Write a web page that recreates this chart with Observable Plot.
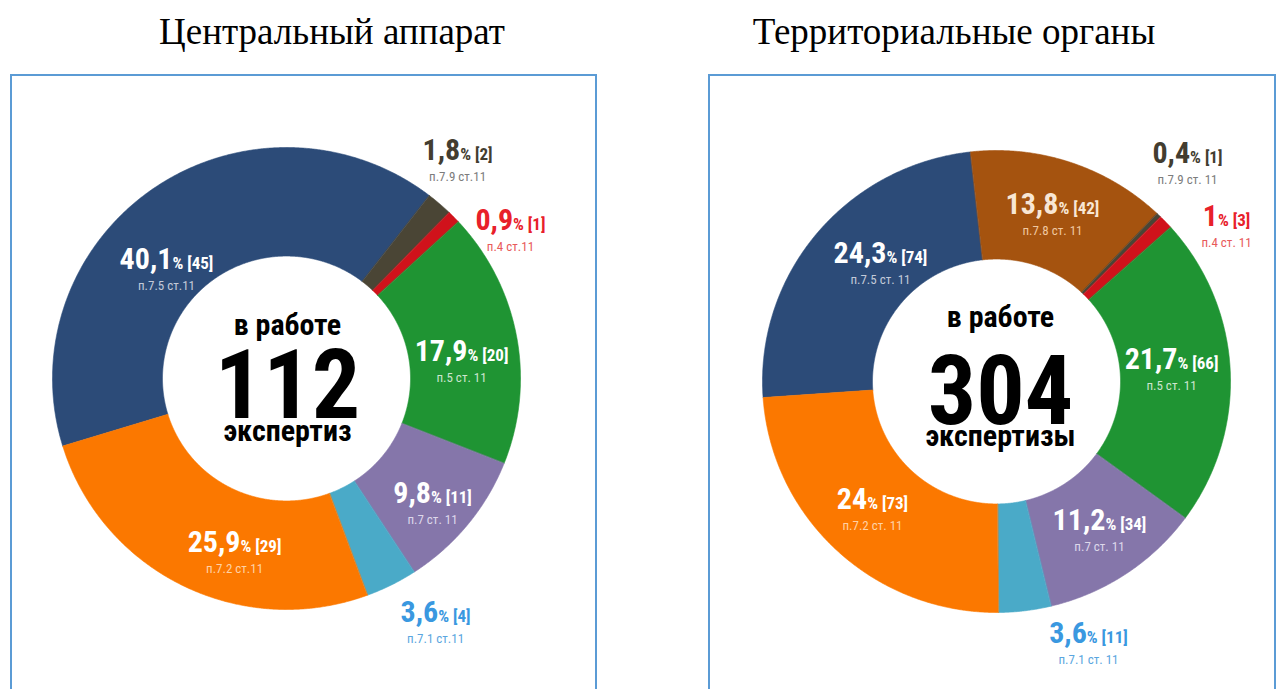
<!DOCTYPE html>
<html>
<head>
<meta charset="utf-8">
<script src="https://cdn.jsdelivr.net/npm/d3@7"></script>
<script src="https://cdn.jsdelivr.net/npm/@observablehq/plot@0.6"></script>
<style>
  html, body { margin: 0; padding: 0; background: #fff; }
  body { width: 1278px; height: 689px; overflow: hidden; position: relative; }
  .title { position: absolute; top: 10px; font-family: "Liberation Serif", "Times New Roman", serif; font-size: 37px; line-height: 44px; color: #000; white-space: nowrap; transform: translateX(-50%); }
  .box { position: absolute; border: 2px solid #5b9bd5; border-bottom: none; box-sizing: border-box; }
  .chart { position: absolute; top: 0; }
  .chart svg { display: block; overflow: visible; }
</style>
</head>
<body>
<script>
// ---------------- data ----------------
const titles = ["Центральный аппарат", "Территориальные органы"];
const centerTop = ["в работе", "в работе"];
const totals = [112, 304];
const centerBottom = ["экспертиз", "экспертизы"];

const caItems    = ["п.7.5 ст.11", "п.7.9 ст.11", "п.4 ст.11", "п.5 ст. 11", "п.7 ст. 11", "п.7.1 ст.11", "п.7.2 ст.11"];
const caCounts   = [45, 2, 1, 20, 11, 4, 29];
const caPercents = [40.1, 1.8, 0.9, 17.9, 9.8, 3.6, 25.9];
const caColors   = ["#2c4b78", "#4a4535", "#d0121b", "#1f9433", "#8576aa", "#4aaac8", "#fb7800"];

const toItems    = ["п.7.5 ст. 11", "п.7.8 ст. 11", "п.7.9 ст. 11", "п.4 ст. 11", "п.5 ст. 11", "п.7 ст. 11", "п.7.1 ст. 11", "п.7.2 ст. 11"];
const toCounts   = [74, 42, 1, 3, 66, 34, 11, 73];
const toPercents = [24.3, 13.8, 0.4, 1, 21.7, 11.2, 3.6, 24];
const toColors   = ["#2c4b78", "#a5530f", "#4a4535", "#d0121b", "#1f9433", "#8576aa", "#4aaac8", "#fb7800"];

// ---------------- styles / layout ----------------
const caLabelMain = ["#ffffff", "#433d30", "#e8202a", "#ffffff", "#ffffff", "#3a98e0", "#ffffff"];
const caLabelSub  = ["#c3cad8", "#7c7c7c", "#e85a5a", "#cce6cf", "#ddd8ea", "#5aa6e0", "#ffd2a6"];
const toLabelMain = ["#ffffff", "#f8e6d4", "#433d30", "#e8202a", "#ffffff", "#ffffff", "#3a98e0", "#ffffff"];
const toLabelSub  = ["#c3cad8", "#f0c8a0", "#7c7c7c", "#e85a5a", "#cce6cf", "#ddd8ea", "#5aa6e0", "#ffd2a6"];
// label anchor (main-line baseline centre) in unit-circle coordinates
const caLabelPos = [[-0.513, 0.476], [0.731, 0.944], [0.957, 0.641], [0.748, 0.074], [0.624, -0.537], [0.637, -1.056], [-0.222, -0.749]];
const toLabelPos = [[-0.496, 0.515], [0.239, 0.727], [0.816, 0.948], [0.983, 0.675], [0.748, 0.056], [0.440, -0.645], [0.393, -1.134], [-0.530, -0.550]];

const panels = [
  {left: 0,   width: 640, cx: 286, cy: 378, rx: 234, ry: 231, start: 253, inner: 0.53,
   titleX: 332, box: [10, 74, 587, 640],
   items: caItems, counts: caCounts, percents: caPercents, colors: caColors,
   main: caLabelMain, sub: caLabelSub, pos: caLabelPos,
   center: [[0.004, 0.188], [0.004, -0.173], [0.004, -0.270]]},
  {left: 640, width: 638, cx: 356, cy: 381, rx: 234, ry: 231, start: 266, inner: 0.53,
   titleX: 954, box: [708, 74, 568, 640],
   items: toItems, counts: toCounts, percents: toPercents, colors: toColors,
   main: toLabelMain, sub: toLabelSub, pos: toLabelPos,
   center: [[0.017, 0.236], [0.017, -0.182], [0.017, -0.278]]}
];

const NARROW = '"Liberation Sans Narrow", "Arial Narrow", "Roboto Condensed", "Liberation Sans", Arial, sans-serif';
const NUM_SIZE = 30, SUF_SIZE = 17, SUB_SIZE = 13, SUB_GAP = 21;
const CENTER_SMALL = 30, CENTER_BIG = 96;

const ctx = document.createElement("canvas").getContext("2d");
function textWidth(t, size, weight) {
  ctx.font = `${weight} ${size}px ${NARROW}`;
  return ctx.measureText(t).width;
}
const fmt = v => String(v).replace(".", ",");

panels.forEach((p, k) => {
  // title
  const t = document.createElement("div");
  t.className = "title";
  t.style.left = p.titleX + "px";
  t.textContent = titles[k];
  document.body.appendChild(t);
  // frame
  const b = document.createElement("div");
  b.className = "box";
  Object.assign(b.style, {left: p.box[0] + "px", top: p.box[1] + "px", width: p.box[2] + "px", height: p.box[3] + "px"});
  document.body.appendChild(b);

  // slices from the counts
  const pie = d3.pie().sort(null).value(d => d)
    .startAngle(p.start * Math.PI / 180).endAngle(p.start * Math.PI / 180 + 2 * Math.PI);
  const arcs = pie(p.counts);
  const slices = arcs.map((a, i) => {
    const pts = [];
    const n = Math.max(2, Math.ceil((a.endAngle - a.startAngle) / 0.005));
    for (let j = 0; j <= n; j++) {
      const ang = a.startAngle + (a.endAngle - a.startAngle) * j / n;
      pts.push({x: Math.sin(ang), y: Math.cos(ang)});
    }
    for (let j = n; j >= 0; j--) {
      const ang = a.startAngle + (a.endAngle - a.startAngle) * j / n;
      pts.push({x: p.inner * Math.sin(ang), y: p.inner * Math.cos(ang)});
    }
    return {pts, color: p.colors[i]};
  });

  // labels
  const labels = p.counts.map((c, i) => {
    const num = fmt(p.percents[i]);
    const suf = `% [${c}]`;
    const wn = textWidth(num, NUM_SIZE, "bold");
    const ws = textWidth(suf, SUF_SIZE, "bold");
    const [ux, uy] = p.pos[i];
    return {
      x: ux, y: uy,
      xs: ux + (-(wn + ws) / 2 + wn) / p.rx,
      num, suf, item: p.items[i], main: p.main[i], sub: p.sub[i]
    };
  });

  const centerData = [
    {x: p.center[0][0], y: p.center[0][1], t: centerTop[k], s: CENTER_SMALL},
    {x: p.center[1][0], y: p.center[1][1], t: String(totals[k]), s: CENTER_BIG},
    {x: p.center[2][0], y: p.center[2][1], t: centerBottom[k], s: CENTER_SMALL}
  ];

  const marks = [
    ...slices.map(s => Plot.line(s.pts, {x: "x", y: "y", fill: s.color, stroke: s.color, strokeWidth: 0.6, curve: "linear-closed"})),
    Plot.text(labels, {x: "xs", y: "y", text: "num", fill: "main", textAnchor: "end", lineAnchor: "bottom", fontSize: NUM_SIZE, fontWeight: "bold", fontFamily: NARROW}),
    Plot.text(labels, {x: "xs", y: "y", text: "suf", fill: "main", textAnchor: "start", lineAnchor: "bottom", fontSize: SUF_SIZE, fontWeight: "bold", fontFamily: NARROW}),
    Plot.text(labels, {x: "x", y: "y", text: "item", fill: "sub", textAnchor: "middle", lineAnchor: "bottom", dy: SUB_GAP, fontSize: SUB_SIZE, fontFamily: NARROW}),
    Plot.text(centerData, {x: "x", y: "y", text: "t", fontSize: "s", fill: "#000", textAnchor: "middle", lineAnchor: "bottom", fontWeight: "bold", fontFamily: NARROW})
  ];

  const svg = Plot.plot({
    width: p.width, height: 689,
    margin: 0,
    style: {background: "transparent", overflow: "visible"},
    x: {domain: [-1, 1], range: [p.cx - p.rx, p.cx + p.rx], axis: null},
    y: {domain: [-1, 1], range: [p.cy + p.ry, p.cy - p.ry], axis: null},
    color: {type: "identity"},
    marks
  });
  const holder = document.createElement("div");
  holder.className = "chart";
  holder.style.left = p.left + "px";
  holder.appendChild(svg);
  document.body.appendChild(holder);
});
</script>
</body>
</html>
